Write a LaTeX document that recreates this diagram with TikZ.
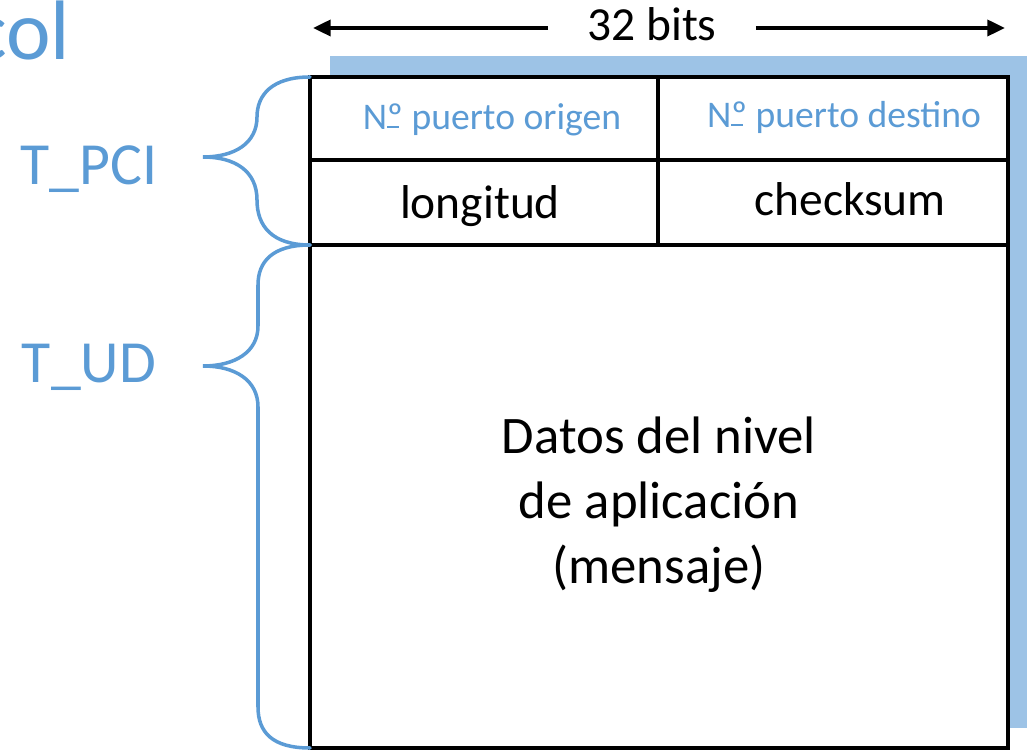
\documentclass[tikz,border=0pt]{standalone}
\usepackage{fontspec}
\setmainfont{Carlito}
\usepackage{tikz}
\usetikzlibrary{arrows.meta}
\definecolor{officeblue}{HTML}{5B9BD5}
\definecolor{shadowblue}{HTML}{9DC3E6}
\newcommand{\ordo}{\rlap{\rule[.04em]{.3em}{.065em}}º}

\begin{document}
\begin{tikzpicture}[x=0.01cm,y=-0.01cm]
        \useasboundingbox (0,0) rectangle (1027,752);
        % frame with its shadow
        \fill[shadowblue] (330,56) rectangle (1040,728);
        \draw[line width=1.1pt,fill=white] (310,77) rectangle (1008,748);
        \draw[line width=1.1pt] (310,160) -- (1006,160);
        \draw[line width=1.1pt] (310,245) -- (1006,245);
        \draw[line width=1.1pt] (658,77) -- (658,245);

        \begin{scope}[every node/.style={inner sep=0pt,anchor=base}]
            \node[officeblue,anchor=base east,font=\fontsize{24}{28}\selectfont] (title) at (71,60) {col};
            \node[officeblue,font=\fontsize{17}{20}\selectfont] (pci) at (89,185) {T\_PCI};
            \node[officeblue,font=\fontsize{17}{20}\selectfont] (ud) at (89,383) {T\_UD};

            \node[inner xsep=11pt,font=\fontsize{13.5}{16}\selectfont] (bits) at (652,41) {32 bits};

            \node[officeblue,font=\fontsize{10.7}{13}\selectfont] (orig) at (492,130) {N\ordo{} puerto origen};
            \node[officeblue,font=\fontsize{10.7}{13}\selectfont] (dest) at (844,128) {N\ordo{} puerto destino};
            \node[font=\fontsize{13.5}{16}\selectfont] (len) at (480,219) {longitud};
            \node[font=\fontsize{13.5}{16}\selectfont] (sum) at (850,216) {checksum};
            \node[align=center,anchor=center,font=\fontsize{15}{18.5}\selectfont] (data) at (659,505) {Datos del nivel\\de aplicación\\(mensaje)};
        \end{scope}

        \coordinate (lend) at (313,28);
        \coordinate (rend) at (1005,28);
        \begin{scope}[every edge/.style={draw,line width=1.1pt,-{Triangle[length=5pt,width=4.5pt]}}]
            \path (bits.west |- lend) edge (lend);
            \path (bits.east |- rend) edge (rend);
        \end{scope}

        % braces
        \begin{scope}[officeblue,line width=1pt,line cap=round]
            \draw (310,77) .. controls (272,77) and (257,95) .. (257,117)
                .. controls (257,143) and (235,157) .. (203,157)
                .. controls (235,157) and (257,171) .. (257,200)
                .. controls (257,226) and (272,245) .. (310,245);
            \draw (310,245) .. controls (272,245) and (258,262) .. (258,285) -- (258,326)
                .. controls (258,352) and (235,366) .. (203,366)
                .. controls (235,366) and (258,380) .. (258,407) -- (258,707)
                .. controls (258,732) and (272,748) .. (310,748);
        \end{scope}
    \end{tikzpicture}
\end{document}
